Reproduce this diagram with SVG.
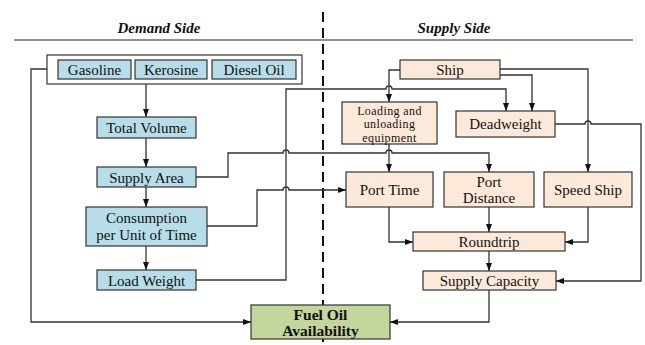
<svg xmlns="http://www.w3.org/2000/svg" width="645" height="345" viewBox="0 0 645 345">
<style>
text{fill:#111;text-anchor:middle;dominant-baseline:central}
.t{font-size:15px}
.s{font-size:12px;letter-spacing:0.4px}
.h{font-size:15px;font-weight:bold;font-style:italic}
.b{font-size:15.5px;font-weight:bold}
.blue{fill:#b7dde8;stroke:#333;stroke-width:1.2}
.peach{fill:#fde9d9;stroke:#333;stroke-width:1.2}
.green{fill:#c3d69b;stroke:#333;stroke-width:1.2}
.c{fill:none;stroke:#333;stroke-width:1.3}
.a{marker-end:url(#ar)}
</style>
<defs>
<marker id="ar" viewBox="0 0 8 8" refX="8" refY="4" markerWidth="8" markerHeight="8" markerUnits="userSpaceOnUse" orient="auto">
<path d="M0,1 L8,4 L0,7 Z" fill="#111"/>
</marker>
</defs>
<rect width="645" height="345" fill="#fff"/>
<g font-family="Liberation Serif, DejaVu Serif, Times New Roman, serif">
<g id="headers">
<text class="h" x="159" y="28">Demand Side</text>
<text class="h" x="454" y="28">Supply Side</text>
<line x1="14" y1="40" x2="633" y2="40" stroke="#222" stroke-width="1.2"/>
<line x1="323" y1="12" x2="323" y2="345" stroke="#111" stroke-width="2" stroke-dasharray="10,6"/>
</g>
<g id="connectors">
<path class="c a" d="M146,84 V117"/>
<path class="c a" d="M146,138 V167"/>
<path class="c a" d="M146,187 V207"/>
<path class="c a" d="M146,246 V270"/>
<path class="c a" d="M47,69 H31 V322 H251"/>
<path class="c a" d="M196,177 H228 V153 H283 A3,3 0 0 1 289,153 H386 A3,3 0 0 1 392,153 H489 V172"/>
<path class="c a" d="M207,226 H257 V190 H283 A3,3 0 0 1 289,190 H346"/>
<path class="c a" d="M196,280 H286 V89 H386 A3,3 0 0 1 392,89 H506 V111"/>
<path class="c a" d="M400,70 H389 V102"/>
<path class="c a" d="M500,75 H532 V111"/>
<path class="c a" d="M500,69 H588 V172"/>
<path class="c a" d="M555,124 H585 A3,3 0 0 1 591,124 H641 V281 H556"/>
<path class="c a" d="M389,144 V172"/>
<path class="c a" d="M389,207 V242 H413"/>
<path class="c a" d="M489,207 V232"/>
<path class="c a" d="M588,207 V242 H565"/>
<path class="c a" d="M489,251 V271"/>
<path class="c a" d="M489,290 V322 H390"/>
</g>
<g id="fuels">
<rect x="47" y="55" width="255" height="29" fill="#fff" stroke="#333" stroke-width="1.2"/>
</g>
<g id="gasoline"><rect class="blue" x="58" y="60" width="73" height="19"/><text class="t" x="94.5" y="70">Gasoline</text></g>
<g id="kerosine"><rect class="blue" x="135" y="60" width="72" height="19"/><text class="t" x="171" y="70">Kerosine</text></g>
<g id="diesel"><rect class="blue" x="212" y="60" width="84" height="19"/><text class="t" x="254" y="70">Diesel Oil</text></g>
<g id="total-volume"><rect class="blue" x="97" y="117" width="99" height="21"/><text class="t" x="146.5" y="128">Total Volume</text></g>
<g id="supply-area"><rect class="blue" x="97" y="167" width="99" height="20"/><text class="t" x="146.5" y="177.5">Supply Area</text></g>
<g id="consumption"><rect class="blue" x="86" y="207" width="121" height="39"/><text class="t" x="146.5" y="218">Consumption</text><text class="t" x="146.5" y="235">per Unit of Time</text></g>
<g id="load-weight"><rect class="blue" x="97" y="270" width="99" height="20"/><text class="t" x="146.5" y="280.5">Load Weight</text></g>
<g id="fuel-oil"><rect class="green" x="251" y="305" width="139" height="34"/><text class="b" x="320.5" y="314.5">Fuel Oil</text><text class="b" x="320.5" y="330.5">Availability</text></g>
<g id="ship"><rect class="peach" x="400" y="60" width="100" height="19"/><text class="t" x="450" y="70">Ship</text></g>
<g id="loading"><rect class="peach" x="342" y="102" width="95" height="42"/><text class="s" x="389.5" y="110.5">Loading and</text><text class="s" x="389.5" y="124">unloading</text><text class="s" x="389.5" y="137.5">equipment</text></g>
<g id="deadweight"><rect class="peach" x="456" y="111" width="99" height="26"/><text class="t" x="505.5" y="124">Deadweight</text></g>
<g id="port-time"><rect class="peach" x="346" y="172" width="87" height="35"/><text class="t" x="389.5" y="190">Port Time</text></g>
<g id="port-distance"><rect class="peach" x="444" y="172" width="90" height="35"/><text class="t" x="489" y="182">Port</text><text class="t" x="489" y="198">Distance</text></g>
<g id="speed-ship"><rect class="peach" x="544" y="172" width="88" height="35"/><text class="t" x="588" y="190">Speed Ship</text></g>
<g id="roundtrip"><rect class="peach" x="413" y="232" width="152" height="19"/><text class="t" x="489" y="242">Roundtrip</text></g>
<g id="supply-capacity"><rect class="peach" x="423" y="271" width="133" height="19"/><text class="t" x="489.5" y="281">Supply Capacity</text></g>
</g>
</svg>
